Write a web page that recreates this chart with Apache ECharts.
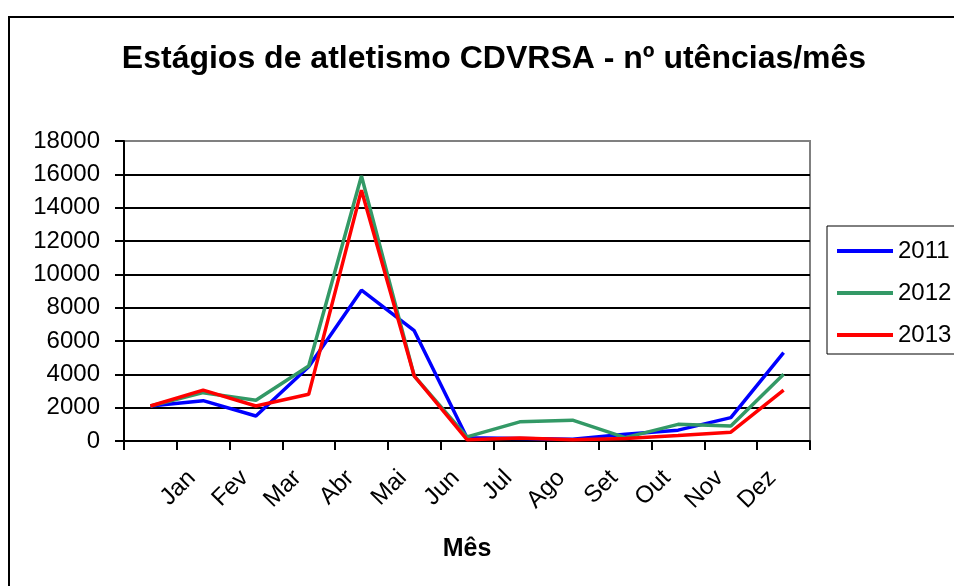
<!DOCTYPE html>
<html>
<head>
<meta charset="utf-8">
<script src="https://cdn.jsdelivr.net/npm/echarts@6/dist/echarts.min.js"></script>
<style>
  html, body { margin: 0; padding: 0; background: #fff; }
  #chart { width: 954px; height: 586px; }
</style>
</head>
<body>
<div id="chart"></div>
<script>
// categorias (a primeira posição não tem rótulo)
const categories = ['', 'Jan', 'Fev', 'Mar', 'Abr', 'Mai', 'Jun', 'Jul', 'Ago', 'Set', 'Out', 'Nov', 'Dez'];
const yTicks = [0, 2000, 4000, 6000, 8000, 10000, 12000, 14000, 16000, 18000];

const s2011 = [2100, 2420, 1500, 4450, 9050, 6620, 200, 150, 100, 400, 650, 1400, 5300];
const s2012 = [2100, 2900, 2450, 4500, 15900, 3900, 250, 1150, 1250, 200, 1000, 900, 4000];
const s2013 = [2100, 3050, 2100, 2800, 15050, 3900, 80, 180, 80, 150, 330, 530, 3050];

const FONT = '"Liberation Sans", Arial, sans-serif';

const chart = echarts.init(document.getElementById('chart'));

// linhas de grelha pretas, a de cima fica cinzenta como a moldura
const gridColors = yTicks.map((v, i) => (i === yTicks.length - 1 ? '#808080' : '#000'));

function line(name, data, color) {
  return {
    name: name,
    type: 'line',
    data: data,
    symbol: 'none',
    animation: false,
    lineStyle: { color: color, width: 3.5 },
    itemStyle: { color: color }
  };
}

chart.setOption({
  backgroundColor: '#fff',
  animation: false,
  title: {
    text: 'Estágios de atletismo CDVRSA - nº utências/mês',
    left: 489,
    top: 38,
    textAlign: 'center',
    textStyle: { fontFamily: FONT, fontWeight: 'bold', fontSize: 32, color: '#000' }
  },
  graphic: [{
    type: 'rect',
    shape: { x: 9, y: 17, width: 1200, height: 1000 },
    style: { fill: 'none', stroke: '#000', lineWidth: 2 },
    silent: true
  }],
  legend: {
    orient: 'vertical',
    left: 827,
    top: 226,
    padding: [13, 30, 7, 10],
    itemGap: 18,
    itemWidth: 56,
    itemHeight: 4,
    icon: 'rect',
    borderColor: '#000',
    borderWidth: 1,
    textStyle: { fontFamily: FONT, fontSize: 24, color: '#000' },
    data: ['2011', '2012', '2013']
  },
  grid: {
    left: 124,
    top: 141,
    right: 144,
    bottom: 145,
    show: true,
    borderColor: '#808080',
    borderWidth: 2
  },
  xAxis: {
    type: 'category',
    data: categories,
    boundaryGap: true,
    name: 'Mês',
    nameLocation: 'middle',
    nameGap: 96,
    nameTextStyle: { fontFamily: FONT, fontWeight: 'bold', fontSize: 25, color: '#000' },
    axisLine: { lineStyle: { color: '#000', width: 2 } },
    axisTick: { show: true, interval: 0, length: 9, lineStyle: { color: '#000', width: 2 } },
    axisLabel: {
      interval: 0,
      rotate: 45,
      margin: 22,
      padding: [0, 16, 0, 0],
      fontFamily: FONT,
      fontSize: 24,
      color: '#000'
    },
    splitLine: { show: false }
  },
  yAxis: {
    type: 'value',
    min: 0,
    max: 18000,
    interval: 2000,
    axisLine: { show: true, lineStyle: { color: '#000', width: 2 } },
    axisTick: { show: true, length: 9, lineStyle: { color: '#000', width: 2 } },
    axisLabel: {
      margin: 24,
      fontFamily: FONT,
      fontSize: 24,
      color: '#000',
      formatter: (v) => String(v)
    },
    splitLine: { show: true, lineStyle: { color: gridColors, width: 2 } }
  },
  series: [
    line('2011', s2011, '#0000ff'),
    line('2012', s2012, '#339966'),
    line('2013', s2013, '#ff0000')
  ]
});
</script>
</body>
</html>
